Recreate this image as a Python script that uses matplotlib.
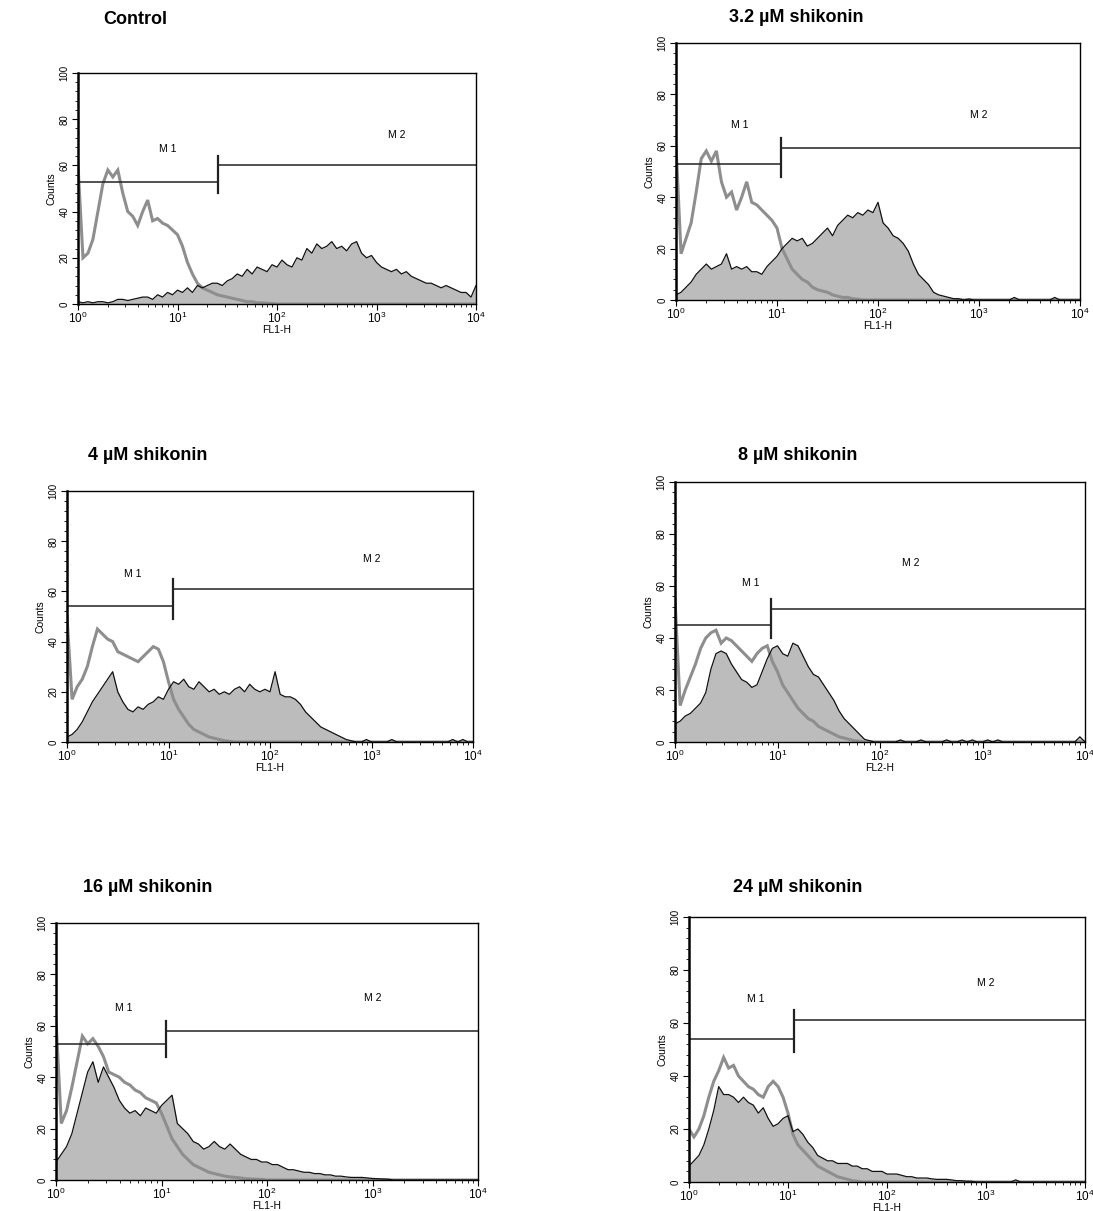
import numpy as np
import matplotlib
matplotlib.use("Agg")
import matplotlib.pyplot as plt
from matplotlib.ticker import MultipleLocator, LogLocator, NullFormatter

plt.rcParams["font.family"] = ["Liberation Sans", "DejaVu Sans"]

# channel positions in decades (0 .. 4), 0.05 decade per bin
decades = np.arange(81) * 0.05

titles = ["Control", "3.2 µM shikonin", "4 µM shikonin",
          "8 µM shikonin", "16 µM shikonin", "24 µM shikonin"]
xlabels = ["FL1-H", "FL1-H", "FL1-H", "FL2-H", "FL1-H", "FL1-H"]

# gray unfilled histograms (untreated reference), counts per bin
gray_ctrl = [60, 20, 22, 28, 40, 52, 58, 55, 58, 48, 40, 38, 34, 40, 45, 36, 37, 35, 34, 32,
             30, 25, 18, 13, 9, 7, 6, 5, 4, 3.5, 3, 2.5, 2, 1.5, 1, 1, 0.5, 0.5, 0.3, 0.2] + [0] * 41
gray_32 = [60, 18, 24, 30, 42, 55, 58, 54, 58, 46, 40, 42, 35, 40, 46, 38, 37, 35, 33, 31,
           28, 20, 16, 12, 10, 8, 7, 5, 4, 3.5, 3, 2, 1.5, 1, 1, 0.5, 0.3] + [0] * 44
gray_4 = [50, 17, 22, 25, 30, 38, 45, 43, 41, 40, 36, 35, 34, 33, 32, 34, 36, 38, 37, 32,
          24, 17, 13, 10, 7, 5, 4, 3, 2, 1.5, 1, 0.5, 0.3] + [0] * 48
gray_8 = [55, 14, 20, 25, 30, 36, 40, 42, 43, 38, 40, 39, 37, 35, 33, 31, 34, 36, 37, 31,
          27, 22, 19, 16, 13, 11, 9, 8, 6, 5, 4, 3, 2, 1.5, 1, 0.5, 0.3] + [0] * 44
gray_16 = [62, 22, 27, 36, 46, 56, 53, 55, 52, 48, 42, 41, 40, 38, 37, 35, 34, 32, 31, 30,
           26, 21, 16, 13, 10, 8, 6, 5, 4, 3, 2.5, 2, 1.5, 1.2, 1, 0.8, 0.5, 0.4, 0.3, 0.2] + [0] * 41
gray_24 = [20, 17, 20, 25, 32, 38, 42, 47, 43, 44, 40, 38, 36, 35, 33, 32, 36, 38, 36, 32,
           26, 18, 14, 12, 10, 8, 6, 5, 4, 3, 2, 1.5, 1, 0.5, 0.3] + [0] * 46

# black filled histograms (stained samples), counts per bin
black_ctrl = [1, 0.5, 1, 0.5, 1, 1, 0.5, 1, 2, 2, 1.5, 2, 2.5, 3, 3, 2, 4, 3, 5, 4,
              6, 5, 7, 5, 8, 7, 8, 9, 9, 8, 10, 11, 13, 12, 15, 13, 16, 15, 14, 17,
              16, 19, 17, 16, 20, 19, 24, 22, 26, 24, 25, 27, 24, 25, 23, 26, 27, 22, 20, 21,
              18, 16, 15, 14, 15, 13, 14, 12, 11, 10, 9, 9, 8, 7, 8, 7, 6, 5, 5, 3, 8]
black_32 = [2, 3, 5, 7, 10, 12, 14, 12, 13, 14, 18, 12, 13, 12, 13, 11, 11, 10, 13, 15,
            17, 20, 22, 24, 23, 24, 21, 22, 24, 26, 28, 25, 29, 31, 33, 32, 34, 33, 35, 34,
            38, 30, 28, 25, 24, 22, 19, 14, 10, 8, 6, 3, 2, 1.5, 1, 0.5, 0.5, 0, 0.4, 0,
            0, 0, 0, 0, 0, 0, 0, 1, 0, 0, 0, 0, 0, 0, 0, 1, 0, 0, 0, 0, 0]
black_4 = [2, 3, 5, 8, 12, 16, 19, 22, 25, 28, 20, 16, 13, 12, 14, 13, 15, 16, 18, 17,
           21, 24, 23, 25, 22, 21, 24, 22, 20, 21, 19, 20, 19, 21, 22, 20, 23, 21, 20, 21,
           20, 28, 19, 18, 18, 17, 15, 12, 10, 8, 6, 5, 4, 3, 2, 1, 0.5, 0, 0, 1,
           0, 0, 0, 0, 1, 0, 0, 0, 0, 0, 0, 0, 0, 0, 0, 0, 1, 0, 1, 0, 0]
black_8 = [7, 8, 10, 11, 13, 15, 19, 28, 34, 35, 34, 30, 27, 24, 23, 21, 22, 27, 32, 36,
           37, 34, 33, 38, 37, 33, 29, 26, 25, 22, 19, 16, 12, 9, 7, 5, 3, 1, 0.5, 0,
           0, 0, 0, 0, 0.8, 0, 0, 0, 0.8, 0, 0, 0, 0, 0.8, 0, 0, 0.8, 0, 0.8, 0,
           0, 0.8, 0, 0.8, 0, 0, 0, 0, 0, 0, 0, 0, 0, 0, 0, 0, 0, 0, 0, 2, 0]
black_16 = [7, 10, 13, 18, 26, 34, 42, 46, 38, 44, 40, 36, 31, 28, 26, 27, 25, 28, 27, 26,
            29, 31, 33, 22, 20, 18, 15, 14, 12, 13, 15, 13, 12, 14, 12, 10, 9, 8, 8, 7,
            7, 6, 6, 5, 4, 4, 3.5, 3, 3, 2.5, 2.5, 2, 2, 1.5, 1.5, 1.2, 1, 1, 1, 0.8,
            0.6, 0.5, 0.4, 0.3] + [0] * 17
black_24 = [6, 8, 10, 14, 20, 27, 36, 33, 33, 32, 30, 32, 30, 29, 26, 28, 24, 21, 22, 24,
            25, 19, 20, 18, 15, 13, 10, 9, 8, 8, 7, 7, 7, 6, 6, 5, 5, 4, 4, 4,
            3, 3, 3, 2.5, 2, 2, 1.5, 1.5, 1.5, 1.2, 1, 1, 1, 0.8, 0.5, 0.5, 0.3, 0.3, 0, 0,
            0, 0, 0, 0, 0, 0, 0.8, 0, 0, 0, 0, 0, 0, 0, 0, 0, 0, 0, 0, 0, 0]

gray_series = [gray_ctrl, gray_32, gray_4, gray_8, gray_16, gray_24]
black_series = [black_ctrl, black_32, black_4, black_8, black_16, black_24]

# marker gates: (M1 level, gate position, M2 level)
m1_levels = [53, 53, 54, 45, 53, 54]
gate_pos = [25.5, 11, 11, 8.7, 11, 11.5]
m2_levels = [60, 59, 61, 51, 58, 61]
m1_label_pos = [(8, 67), (4.3, 68), (4.4, 67), (5.5, 61), (4.4, 67), (4.7, 69)]
m2_label_pos = [(1600, 73), (1000, 72), (1000, 73), (200, 69), (1000, 71), (1000, 75)]

W, H = 1093, 1211
# axes boxes in pixels: left, right, top, bottom
boxes = [(78, 476, 73, 304), (676, 1080, 43, 300), (67, 473, 491, 742),
         (675, 1085, 482, 742), (56, 478, 923, 1180), (689, 1085, 917, 1182)]
title_pos = [(103, 20), (729, 18), (88, 455), (738, 455), (83, 887), (733, 887)]

fig = plt.figure(figsize=(W / 100, H / 100), dpi=100)

x = 10 ** decades
for i in range(6):
    l, r, t, b = boxes[i]
    ax = fig.add_axes([l / W, 1 - b / H, (r - l) / W, (b - t) / H])
    g = np.array(gray_series[i], dtype=float)
    k = np.array(black_series[i], dtype=float)
    ax.fill_between(x, k, color="#bcbcbc", lw=0)
    ax.plot(x, g, color="#8e8e8e", lw=2.2, solid_joinstyle="miter")
    ax.plot(x, k, color="#111111", lw=0.9)

    # gates
    gp = gate_pos[i]
    ax.plot([1, gp], [m1_levels[i]] * 2, color="#222222", lw=1.1)
    ax.plot([gp, 1e4], [m2_levels[i]] * 2, color="#222222", lw=1.1)
    ax.plot([gp, gp], [m1_levels[i] - 5, m2_levels[i] + 4], color="#222222", lw=1.6)
    ax.text(*m1_label_pos[i], "M 1", fontsize=7.5, ha="center", va="center")
    ax.text(*m2_label_pos[i], "M 2", fontsize=7.5, ha="center", va="center")

    ax.set_xscale("log")
    ax.set_xlim(1, 1e4)
    ax.set_ylim(0, 100)
    ax.xaxis.set_major_locator(LogLocator(base=10, numticks=6))
    ax.xaxis.set_minor_locator(LogLocator(base=10, subs=np.arange(2, 10), numticks=20))
    ax.xaxis.set_minor_formatter(NullFormatter())
    ax.yaxis.set_major_locator(MultipleLocator(20))
    ax.yaxis.set_minor_locator(MultipleLocator(4))
    ax.tick_params(direction="out", labelsize=8.5, length=4, width=0.8, top=False, right=False)
    ax.tick_params(which="minor", direction="out", length=2.5, width=0.6)
    for lab in ax.get_yticklabels():
        lab.set_rotation(90)
        lab.set_va("center")
        lab.set_fontsize(7)
    ax.tick_params(axis="x", pad=1)
    ax.tick_params(axis="y", pad=2)
    for s in ax.spines.values():
        s.set_linewidth(1.0)
    ax.spines["left"].set_linewidth(1.8)
    ax.set_xlabel(xlabels[i], fontsize=7.5, labelpad=-1)
    ax.set_ylabel("Counts", fontsize=7.5, labelpad=2)

    tx, ty = title_pos[i]
    fig.text(tx / W, 1 - ty / H, titles[i], fontsize=13, fontweight="bold",
             ha="left", va="center")

fig.savefig("out.png", dpi=100)
